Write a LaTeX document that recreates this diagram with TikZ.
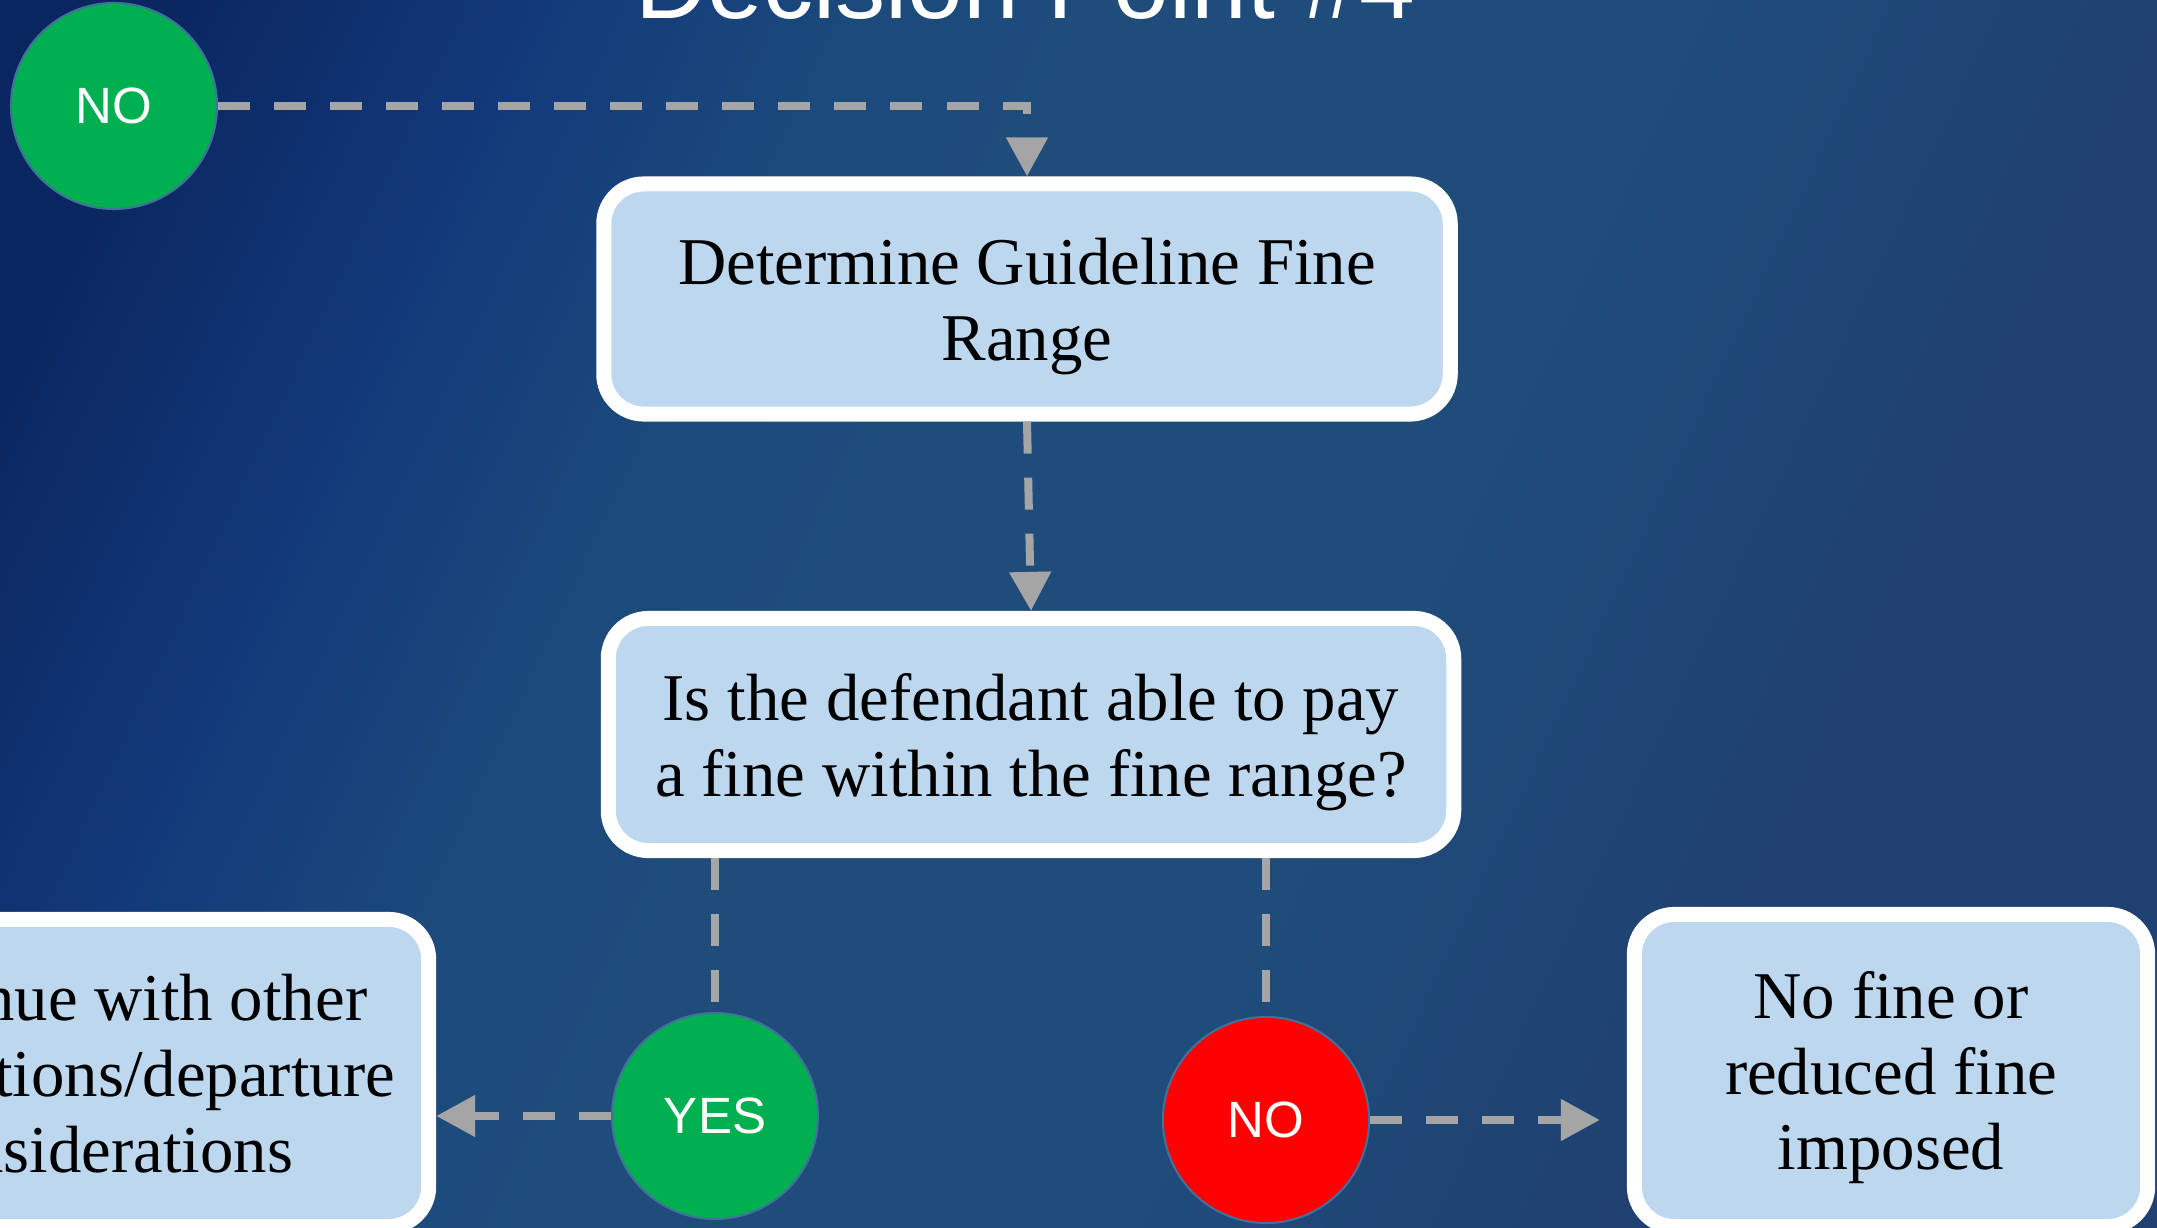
\documentclass[tikz,border=0pt]{standalone}
\usepackage{fontspec}
\setmainfont{Liberation Serif}
\newfontfamily\labelfont{Liberation Sans}
\usetikzlibrary{arrows.meta}
\definecolor{bgdark}{HTML}{0A2660}
\definecolor{bgnavy}{HTML}{13397A}
\definecolor{bgsteel}{HTML}{1B4A7B}
\definecolor{bgmid}{HTML}{1F4C7B}
\definecolor{bgright}{HTML}{1F4070}
\definecolor{boxfill}{HTML}{BDD7EE}
\definecolor{yesgreen}{HTML}{00B050}
\definecolor{rimblue}{HTML}{41719C}
\definecolor{linkgray}{HTML}{A5A5A5}
\pgfdeclarehorizontalshading{backdrop}{100bp}{color(0bp)=(bgdark); color(21bp)=(bgdark); color(30bp)=(bgnavy); color(38bp)=(bgsteel); color(44bp)=(bgmid); color(58bp)=(bgmid); color(70bp)=(bgright); color(100bp)=(bgright)}
\begin{document}
\begin{tikzpicture}[x=0.01cm, y=-0.01cm,
  stepbox/.style={draw=white, line width=0.15cm, fill=boxfill, rounded corners=0.4cm, align=center, inner sep=0pt, text depth=-0.025cm, font=\fontsize{19pt}{21.6pt}\selectfont},
  answer/.style={circle, draw=rimblue, line width=0.02cm, minimum size=2.06cm, inner sep=0pt, text=white, font=\labelfont\fontsize{14.5pt}{16pt}\selectfont},
  link/.style={draw=linkgray, line width=0.08cm, dash pattern=on 0.32cm off 0.24cm},
  tip/.style={-{Triangle[length=0.39cm, width=0.4cm]}}]
% Background
\useasboundingbox (0,0) rectangle (2157,1228);
\clip (0,0) rectangle (2157,1228);
\shade[shading=backdrop, shading angle=-25] (0,0) rectangle (2157,1228);
\node[anchor=base, text=white, font=\labelfont\fontsize{28.5pt}{34pt}\selectfont] (title) at (1025,19) {Decision Point \#4};
% Steps
\node[stepbox, minimum width=8.46cm, minimum height=2.30cm] (fine) at (1027,299) {Determine Guideline Fine\\Range};
\node[stepbox, minimum width=8.45cm, minimum height=2.32cm] (ask) at (1031,734.5) {Is the defendant able to pay\\a fine within the fine range?};
\node[stepbox, minimum width=6.57cm, minimum height=3.07cm] (other) at (100,1073) {Continue with other\\calculations/departure\\considerations};
\node[stepbox, minimum width=5.13cm, minimum height=3.12cm] (result) at (1891,1070.5) {No fine or\\reduced fine\\imposed};
% Answers
\node[answer, fill=yesgreen] (noTop) at (114,106) {NO};
\node[answer, fill=yesgreen] (yes) at (715,1116) {YES};
\node[answer, fill=red] (noRed) at (1266,1120) {NO};
% Links
\draw[link, tip] (noTop.east) -| (fine.north);
\draw[link, tip] (fine.south) -- (ask.north);
\draw[link] (ask.south -| yes.north) -- (yes.north);
\draw[link] (ask.south -| noRed.north) -- (noRed.north);
\draw[link, tip] (yes.west) -- (yes.west -| other.east);
\draw[link, tip, shorten >=0.27cm] (noRed.east) -- (noRed.east -| result.west);
\end{tikzpicture}
\end{document}
